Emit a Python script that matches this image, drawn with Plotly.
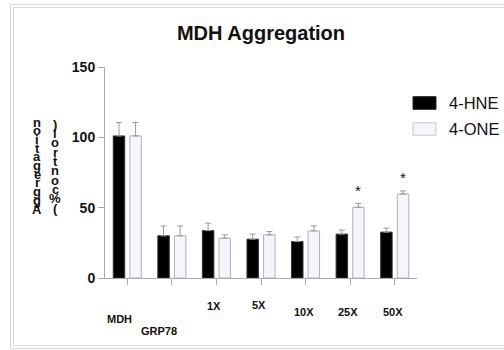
import plotly.graph_objects as go

categories = ["MDH", "GRP78", "1X", "5X", "10X", "25X", "50X"]
hne_values = [101, 30, 33.7, 27.6, 25.9, 31.2, 32.6]
hne_errors = [9.5, 7, 5.3, 3.6, 3.2, 2.8, 2.8]
one_values = [101, 30, 28.3, 30.7, 33.5, 50.3, 59.7]
one_errors = [9.5, 7, 2.4, 2.3, 3.6, 2.6, 2.2]
significant = ["25X", "50X"]
y_ticks = [0, 50, 100, 150]
series_names = ["4-HNE", "4-ONE"]
title_text = "MDH Aggregation"
ytitle_1 = "Aggregation"
ytitle_2 = "(% control)"

W, H = 504, 350
L, R, T, B = 105, 87, 67, 72
PW, PH = W - L - R, H - T - B
FONT = "Arial, 'Liberation Sans', sans-serif"
BARGAP = 0.255
HNE_COLOR = "#000000"
ONE_COLOR = "#F5F5FC"
GREY = "#AAAAAA"


def px_x(px):
    return (px - L) / PW


def px_y(py):
    return (H - B - py) / PH


fig = go.Figure()
fig.add_trace(go.Bar(
    x=categories, y=hne_values, name=series_names[0],
    marker=dict(color=HNE_COLOR, line=dict(color="#333333", width=1)),
    error_y=dict(type="data", array=hne_errors, arrayminus=[0] * len(hne_errors),
                 symmetric=False, color="#999999", thickness=1, width=3),
    showlegend=False,
))
fig.add_trace(go.Bar(
    x=categories, y=one_values, name=series_names[1],
    marker=dict(color=ONE_COLOR, line=dict(color="#B0B0B8", width=1)),
    error_y=dict(type="data", array=one_errors, arrayminus=[0] * len(one_errors),
                 symmetric=False, color="#999999", thickness=1, width=3),
    showlegend=False,
))

annotations = []
# category labels (staggered as in the original)
label_y = {"MDH": 319, "GRP78": 331, "1X": 306, "5X": 305, "10X": 312, "25X": 312, "50X": 312}
label_dx = {"MDH": -8, "GRP78": -13}
for i, c in enumerate(categories):
    annotations.append(dict(
        x=i, y=0, xref="x", yref="paper", text=c, showarrow=False,
        xshift=label_dx.get(c, -2), yshift=-(label_y[c] - (H - B)),
        xanchor="center", yanchor="middle",
        font=dict(family=FONT, size=11, color="#111111", weight="bold"),
    ))

# significance stars
offset = (1 - BARGAP) / 4
for c in significant:
    i = categories.index(c)
    annotations.append(dict(
        x=i + offset, y=one_values[i] + one_errors[i], xref="x", yref="y",
        text="*", showarrow=False, yanchor="bottom", yshift=3,
        font=dict(family=FONT, size=15, color="#111111"),
    ))

# stacked y-axis title (characters upright, stacked bottom to top)
for txt, xc, ybot, step in [(ytitle_1, 37, 209, 8.7), (ytitle_2, 55, 208, 9.3)]:
    k = 0
    for ch in txt:
        if ch == " ":
            continue
        py = ybot - k * step
        k += 1
        annotations.append(dict(
            x=0, y=0, xref="paper", yref="paper", text=ch, showarrow=False,
            xshift=xc - L, yshift=(H - B) - py,
            xanchor="center", yanchor="middle",
            font=dict(family=FONT, size=13, color="#111111", weight="bold"),
        ))

# legend
legend_rows = [(series_names[0], HNE_COLOR, "#222222", 103), (series_names[1], ONE_COLOR, "#C8C8D0", 129)]
shapes = []
for name, fill, line, cy in legend_rows:
    shapes.append(dict(type="rect", xref="paper", yref="paper",
                       x0=px_x(413), x1=px_x(436), y0=px_y(cy + 6.3), y1=px_y(cy - 6.3),
                       fillcolor=fill, line=dict(color=line, width=1)))
    annotations.append(dict(
        x=px_x(447), y=px_y(cy), xref="paper", yref="paper", text=name,
        showarrow=False, xanchor="left", yanchor="middle",
        font=dict(family=FONT, size=16.5, color="#111111"),
    ))

# outer frame (double light-grey border)
for (a, b, c, d) in [(10.5, 4.5, 520, 348.5), (13.5, 7.5, 520, 345.5)]:
    shapes.append(dict(type="rect", xref="paper", yref="paper",
                       x0=px_x(a), x1=px_x(c), y0=px_y(d), y1=px_y(b),
                       line=dict(color="#D8D8D8", width=1), fillcolor="rgba(0,0,0,0)", layer="below"))

fig.update_layout(
    width=W, height=H,
    margin=dict(l=L, r=R, t=T, b=B),
    paper_bgcolor="white", plot_bgcolor="white",
    barmode="group", bargap=BARGAP, bargroupgap=0.31,
    title=dict(text=title_text, x=261 / W, xref="container", xanchor="center",
               y=1 - 33 / H, yref="container", yanchor="middle",
               font=dict(family=FONT, size=20, color="#111111", weight="bold")),
    xaxis=dict(type="category", showline=True, linecolor=GREY, linewidth=1,
               ticks="outside", ticklen=6, tickcolor=GREY, showticklabels=False,
               showgrid=False, zeroline=False, range=[-0.5, len(categories) - 0.5]),
    yaxis=dict(range=[0, 150], tickvals=y_ticks, showline=True, linecolor=GREY, linewidth=1,
               ticks="outside", ticklen=6, tickcolor=GREY, showgrid=False, zeroline=False,
               tickfont=dict(family=FONT, size=14, color="#111111", weight="bold")),
    annotations=annotations,
    shapes=shapes,
    showlegend=False,
)

fig.write_html("out.html")
